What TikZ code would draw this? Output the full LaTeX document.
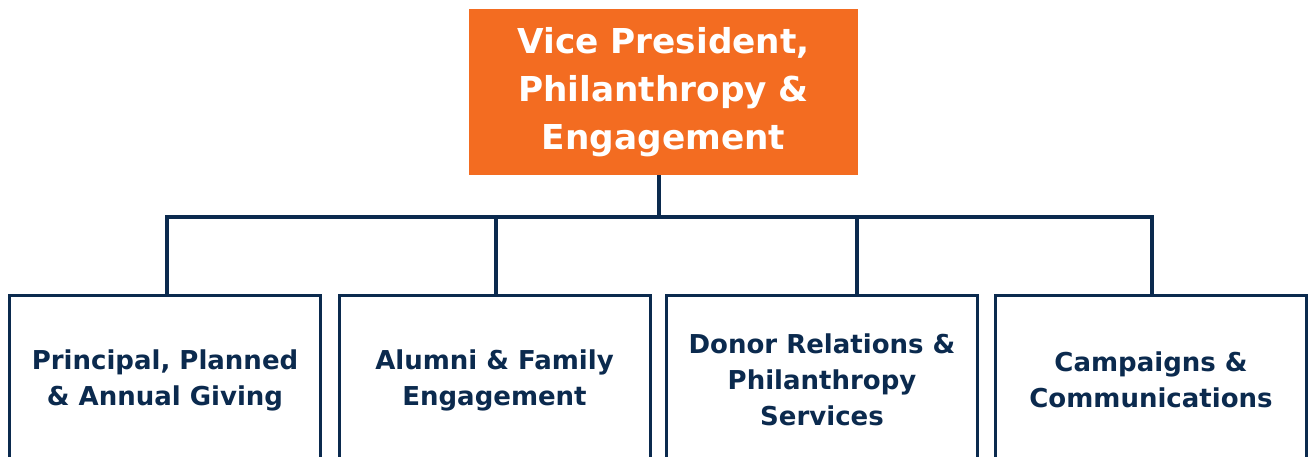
\documentclass[tikz,border=0pt]{standalone}
\usepackage{fontspec}
\setmainfont{DejaVu Sans}
\definecolor{navy}{HTML}{0B2A4E}
\definecolor{vporange}{HTML}{F36C21}
\begin{document}
\begin{tikzpicture}[x=1pt,y=-1pt,
  conn/.style={draw=navy,line width=4pt,line join=miter},
  unit/.style={draw=navy,line width=3pt,fill=white,inner sep=0pt,outer sep=0pt,
    minimum width=311pt,minimum height=170pt,align=center,text=navy,
    font=\fontsize{26}{36}\selectfont\bfseries},
  head/.style={fill=vporange,inner sep=0pt,outer sep=0pt,minimum width=389pt,
    minimum height=166pt,align=center,text=white,
    font=\fontsize{34.3}{48}\selectfont\bfseries}]
\clip (0,0) rectangle (1310,456);
\node[head] (top) at (663.5,92) {Vice President,\\Philanthropy \&\\Engagement};
\node[unit] (b1) at (165,380) {Principal, Planned\\\& Annual Giving};
\node[unit] (b2) at (494.5,380) {Alumni \& Family\\Engagement};
\node[unit] (b3) at (822,380) {Donor Relations \&\\Philanthropy\\Services};
\node[unit] (b4) at (1151,380) {Campaigns \&\\Communications};
\coordinate (bus) at (659,217);
\draw[conn] (top.south -| bus) -- (bus);
\draw[conn] ([xshift=2pt]b1.north) -- ([xshift=2pt]b1.north |- bus) -- ([xshift=1pt]b4.north |- bus) -- ([xshift=1pt]b4.north);
\draw[conn] ([xshift=1.5pt]b2.north) -- ([xshift=1.5pt]b2.north |- bus);
\draw[conn] ([xshift=35pt]b3.north) -- ([xshift=35pt]b3.north |- bus);
\end{tikzpicture}
\end{document}
